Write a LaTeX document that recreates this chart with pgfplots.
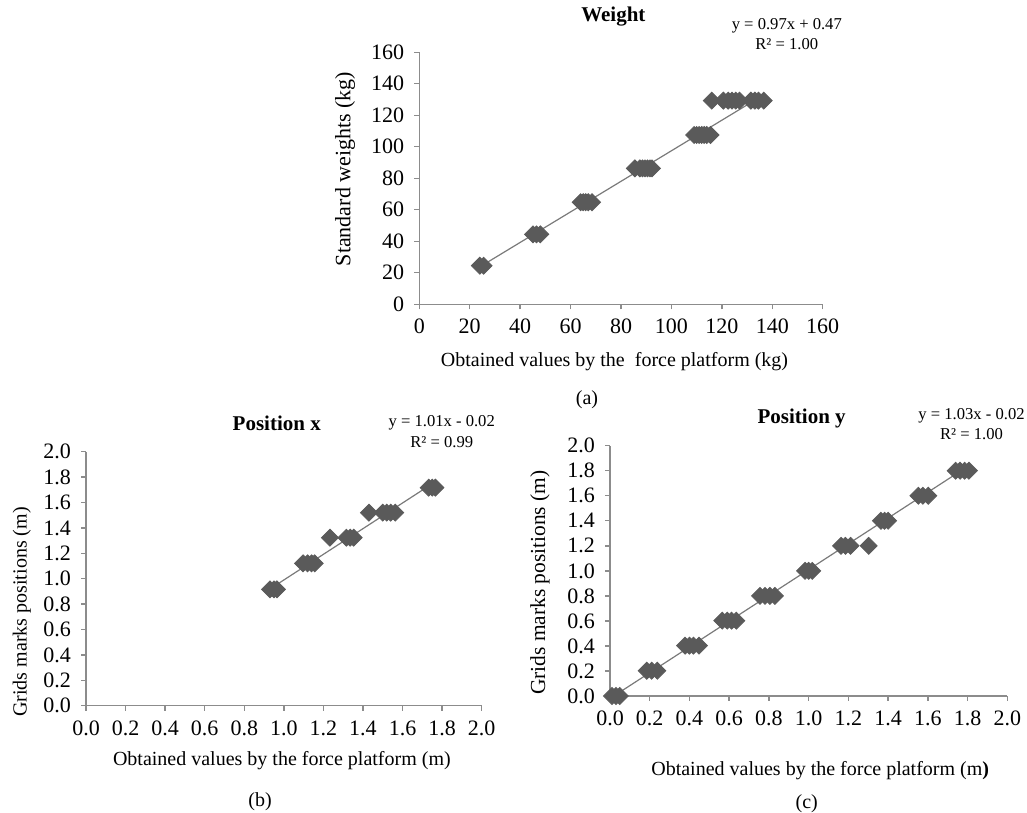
\documentclass[border=0pt]{standalone}
\usepackage{fontspec}
\setmainfont{Liberation Serif}
\usepackage{pgfplots}
\pgfplotsset{compat=1.18}
\definecolor{axisgray}{HTML}{8C8C8C}
\definecolor{markgray}{HTML}{5A5A5A}
\definecolor{linegray}{HTML}{7A7A7A}
\pgfplotsset{
  excel/.style={
    scale only axis,
    axis x line*=bottom,
    axis y line*=left,
    axis line style={draw=axisgray, line width=0.7pt},
    tick align=outside,
    major tick length=2.5pt,
    tick style={draw=axisgray, line width=0.7pt},
    tick label style={font=\fontsize{11}{13}\selectfont, text=black},
    x tick label style={yshift=-1.5pt},
    y tick label style={xshift=-1.5pt},
    /pgf/number format/assume math mode=true,
    label style={font=\fontsize{9.5}{11}\selectfont},
    clip=false,
  },
  pts/.style={only marks, mark=square*, mark size=3.0pt,
    mark options={rotate=45, fill=markgray, draw=markgray}},
  trend/.style={linegray, line width=0.6pt, no marks},
  dec1/.style={
    x tick label style={/pgf/number format/.cd, fixed, fixed zerofill, precision=1},
    y tick label style={/pgf/number format/.cd, fixed, fixed zerofill, precision=1}},
}
\begin{document}
\begin{tikzpicture}
\useasboundingbox (0,0) rectangle (513.5pt,406.5pt);
% ---------------- (a) Weight ----------------
\begin{axis}[excel,
  at={(209.65pt,254.35pt)}, anchor=south west,
  width=201.7pt, height=126pt,
  xmin=0, xmax=160, ymin=0, ymax=160,
  xtick={0,20,...,160}, ytick={0,20,...,160},
  xlabel={Obtained values by the \ force platform (kg)},
  ylabel={Standard weights (kg)},
  every axis x label/.style={at={(axis description cs:0.484,-0.228)}, anchor=center},
  every axis y label/.style={at={(axis description cs:-0.184,0.537)}, anchor=center, rotate=90, font=\fontsize{11}{13}\selectfont},
]
\addplot[pts] coordinates {
 (24.0,24.5) (25.5,24.5)
 (45.1,44.4) (46.5,44.4) (48.0,44.4)
 (64.0,64.8) (65.0,64.8) (66.0,64.8) (67.0,64.8) (68.5,64.8)
 (85.5,86.3) (87.5,86.3) (88.5,86.3) (89.5,86.3) (90.5,86.3) (91.5,86.3) (92.3,86.3)
 (109.0,107.5) (110.0,107.5) (111.0,107.5) (112.0,107.5) (113.0,107.5) (114.0,107.5) (115.5,107.5)
 (116.0,129.3) (120.6,129.3) (122.5,129.3) (124.0,129.3) (125.5,129.3) (127.0,129.3)
 (131.5,129.3) (133.1,129.3) (134.5,129.3) (136.6,129.3)
};
\addplot[trend] coordinates {(24.0,23.75) (136.5,132.88)};
\node[font=\bfseries\fontsize{10.5}{12}\selectfont] at (axis description cs:0.481,1.141) {Weight};
\node[font=\fontsize{8.3}{9.5}\selectfont] at (axis description cs:0.911,1.104) {y = 0.97x + 0.47};
\node[font=\fontsize{8.3}{9.5}\selectfont] at (axis description cs:0.911,1.032) {R² = 1.00};
\end{axis}
% ---------------- (b) Position x ----------------
\begin{axis}[excel, dec1,
  at={(43pt,53.65pt)}, anchor=south west,
  width=197.85pt, height=127pt,
  xmin=0, xmax=2, ymin=0, ymax=2,
  xtick={0,0.2,...,2.01}, ytick={0,0.2,...,2.01},
  xlabel={Obtained values by the force platform (m)},
  ylabel={Grids marks positions (m)},
  every axis x label/.style={at={(axis description cs:0.495,-0.218)}, anchor=center},
  every axis y label/.style={at={(axis description cs:-0.1625,0.369)}, anchor=center, rotate=90},
]
\addplot[pts] coordinates {
 (0.930,0.916) (0.950,0.916) (0.965,0.916)
 (1.097,1.121) (1.120,1.121) (1.140,1.121) (1.156,1.121)
 (1.233,1.323) (1.316,1.323) (1.335,1.323) (1.353,1.323)
 (1.430,1.520) (1.500,1.520) (1.520,1.520) (1.540,1.520) (1.563,1.520)
 (1.732,1.717) (1.750,1.717) (1.766,1.717)
};
\addplot[trend] coordinates {(0.913,0.902) (1.766,1.764)};
\node[font=\bfseries\fontsize{10.5}{12}\selectfont] at (axis description cs:0.482,1.112) {Position x};
\node[font=\fontsize{8.3}{9.5}\selectfont] at (axis description cs:0.899,1.112) {y = 1.01x - 0.02};
\node[font=\fontsize{8.3}{9.5}\selectfont] at (axis description cs:0.899,1.036) {R² = 0.99};
\end{axis}
% ---------------- (c) Position y ----------------
\begin{axis}[excel, dec1,
  at={(305pt,58.5pt)}, anchor=south west,
  width=198.65pt, height=125.15pt,
  xmin=0, xmax=2, ymin=0, ymax=2,
  xtick={0,0.2,...,2.01}, ytick={0,0.2,...,2.01},
  xlabel={Obtained values by the force platform (m\textbf{)}},
  ylabel={Grids marks positions (m)},
  every axis x label/.style={at={(axis description cs:0.529,-0.30)}, anchor=center},
  every axis y label/.style={at={(axis description cs:-0.176,0.453)}, anchor=center, rotate=90, font=\fontsize{10.7}{12.5}\selectfont},
]
\addplot[pts] coordinates {
 (0.010,0.0) (0.030,0.0) (0.049,0.0)
 (0.185,0.202) (0.210,0.202) (0.238,0.202)
 (0.378,0.402) (0.400,0.402) (0.420,0.402) (0.448,0.402)
 (0.565,0.602) (0.590,0.602) (0.612,0.602) (0.636,0.602)
 (0.755,0.800) (0.780,0.800) (0.805,0.800) (0.830,0.800)
 (0.982,1.000) (1.000,1.000) (1.018,1.000)
 (1.163,1.200) (1.185,1.200) (1.211,1.200) (1.302,1.200)
 (1.364,1.400) (1.382,1.400) (1.400,1.400)
 (1.552,1.600) (1.575,1.600) (1.602,1.600)
 (1.740,1.800) (1.762,1.800) (1.785,1.800) (1.807,1.800)
};
\addplot[trend] coordinates {(0.020,0.0006) (1.805,1.839)};
\node[font=\bfseries\fontsize{10.5}{12}\selectfont] at (axis description cs:0.4825,1.109) {Position y};
\node[font=\fontsize{8.3}{9.5}\selectfont] at (axis description cs:0.910,1.119) {y = 1.03x - 0.02};
\node[font=\fontsize{8.3}{9.5}\selectfont] at (axis description cs:0.910,1.0455) {R² = 1.00};
\end{axis}
% panel labels
\node[font=\fontsize{10}{12}\selectfont] at (293.5pt,206.5pt) {(a)};
\node[font=\fontsize{10}{12}\selectfont] at (130pt,5.65pt) {(b)};
\node[font=\fontsize{10}{12}\selectfont] at (403.35pt,4.5pt) {(c)};
\end{tikzpicture}
\end{document}
